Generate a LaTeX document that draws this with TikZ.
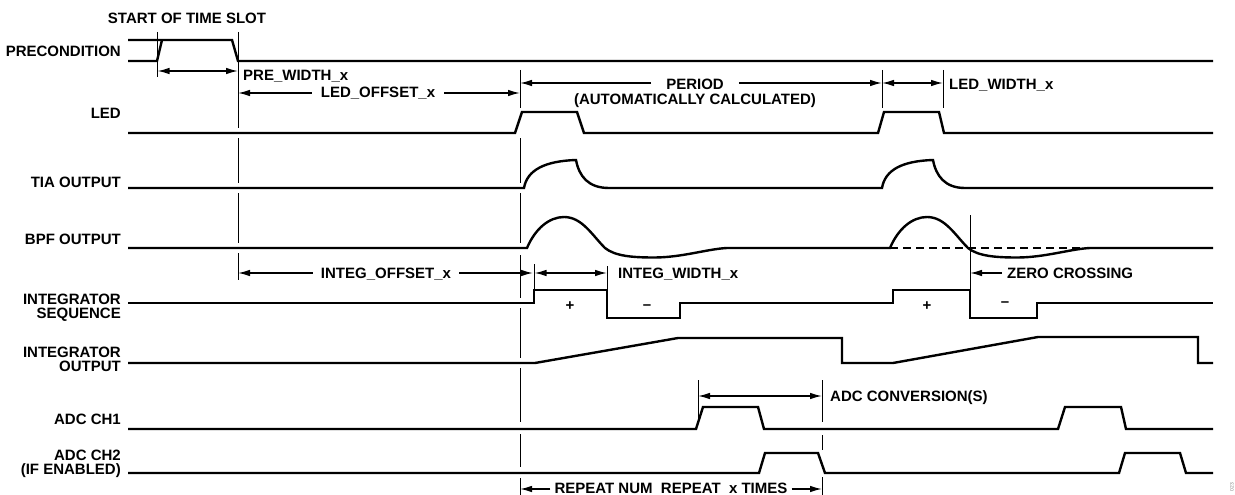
\documentclass[tikz,border=0pt]{standalone}
\usepackage{fontspec}
\setmainfont{Liberation Sans}
\usetikzlibrary{arrows.meta}
\begin{document}
\begin{tikzpicture}[x=1pt,y=-1pt,
  wave/.style={line width=2.4pt, line join=miter},
  tickln/.style={line width=0.9pt},
  dimln/.style={line width=1.3pt},
  dimarr/.style={dimln, -{Latex[length=12pt,width=6.5pt]}},
  dimboth/.style={dimln, {Latex[length=12pt,width=6.5pt]}-{Latex[length=12pt,width=6.5pt]}},
  lbl/.style={font=\fontsize{15}{15}\selectfont\bfseries, inner sep=0pt},
  sig/.style={lbl, anchor=base east},
  sign/.style={font=\fontsize{15}{15}\selectfont\bfseries, inner sep=0pt}
]
\useasboundingbox (0,0) rectangle (1235,495);

% ---------- signal labels ----------
\node[sig] (lPre) at (121,57) {PRECONDITION};
\node[sig] (lLed) at (121,118) {LED};
\node[sig] (lTia) at (121,187) {TIA OUTPUT};
\node[sig] (lBpf) at (121,244.5) {BPF OUTPUT};
\node[sig] (lIs1) at (121,304) {INTEGRATOR};
\node[sig] (lIs2) at (121,318.5) {SEQUENCE};
\node[sig] (lIo1) at (121,357) {INTEGRATOR};
\node[sig] (lIo2) at (121,371.5) {OUTPUT};
\node[sig] (lAdc1) at (121,424) {ADC CH1};
\node[sig] (lAdc2a) at (121,460) {ADC CH2};
\node[sig] (lAdc2b) at (121,474) {(IF ENABLED)};

\node[lbl, anchor=base] (lStart) at (187,24) {START OF TIME SLOT};

% ---------- thin vertical markers ----------
\draw[tickln] (157.5,32) -- (157.5,77);
\foreach \a/\b in {32/128,138/183,193/243,253/280}
  \draw[tickln] (238,\a) -- (238,\b);
\foreach \a/\b in {70/108,138/183,193/243,255/298,308/358,368/422,434/467,478/495}
  \draw[tickln] (520,\a) -- (520,\b);
\draw[tickln] (534,264) -- (534,290);
\draw[tickln] (607,266) -- (607,290);
\draw[tickln] (882,70) -- (882,108);
\draw[tickln] (943,70) -- (943,108);
\draw[tickln] (970,215) -- (970,290);
\draw[tickln] (698,380) -- (698,420);
\foreach \a/\b in {380/422,435/450,477/495}
  \draw[tickln] (822,\a) -- (822,\b);

% ---------- waveforms ----------
% precondition
\draw[wave] (128,40) -- (232,40) -- (238,61) -- (1213,61);
\draw[wave] (128,61) -- (157,61) -- (162,40);
% LED
\draw[wave] (128,133) -- (515,133) -- (522,112) -- (577,112) -- (584,133)
  -- (878,133) -- (884,112) -- (939,112) -- (944,133) -- (1213,133);
% TIA
\draw[wave] (128,188) -- (524,188) .. controls (527,170) and (545,161) .. (576,160)
  .. controls (579,176) and (588,188) .. (609,188) -- (882,188)
  .. controls (885,170) and (902,161) .. (933,160)
  .. controls (936,176) and (945,188) .. (965,188) -- (1213,188);
% BPF
\draw[wave] (128,248) -- (527,248) .. controls (535,229) and (549,217) .. (564,217)
  .. controls (582,217) and (592,235) .. (605,248)
  .. controls (615,256) and (632,257.5) .. (654,257.5)
  .. controls (682,257.5) and (707,249) .. (727,248) -- (890,248)
  .. controls (898,229) and (912,217) .. (927,217)
  .. controls (945,217) and (955,235) .. (968,248)
  .. controls (978,256) and (995,257.5) .. (1017,257.5)
  .. controls (1045,257.5) and (1070,249) .. (1090,248) -- (1213,248);
\draw[line width=1.9pt, dash pattern=on 8pt off 5pt] (890,248) -- (1090,248);
% integrator sequence
\draw[wave] (128,303) -- (534,303) -- (534,290) -- (607,290) -- (607,318) -- (680,318)
  -- (680,303) -- (893,303) -- (893,290) -- (970,290) -- (970,318) -- (1037,318)
  -- (1037,303) -- (1213,303);
\node[sign] (plus1) at (570,306) {+};
\node[sign] (minus1) at (647,307) {\textendash};
\node[sign] (plus2) at (927,306) {+};
\node[sign] (minus2) at (1005,304) {\textendash};
% integrator output
\draw[wave] (128,363) -- (535,363) -- (678,338) -- (842,338) -- (842,363) -- (893,363)
  -- (1038,337) -- (1198,337) -- (1198,363) -- (1213,363);
% ADC CH1
\draw[wave] (128,429) -- (696,429) -- (703,407) -- (758,407) -- (764,429)
  -- (1058,429) -- (1065,407) -- (1121,407) -- (1126,429) -- (1213,429);
% ADC CH2
\draw[wave] (128,473) -- (759,473) -- (765,453) -- (818,453) -- (825,473)
  -- (1119,473) -- (1125,453) -- (1180,453) -- (1186,473) -- (1213,473);

% ---------- dimension arrows ----------
\coordinate (pwA) at (157.5,71);
\coordinate (pwB) at (238,71);
\draw[dimboth] (pwA) -- (pwB);
\node[lbl, anchor=base west] (lPreW) at (243,81) {PRE\_WIDTH\_x};

\coordinate (loA) at (238,93);
\coordinate (loB) at (520,93);
\node[lbl, anchor=base, inner xsep=9pt] (lLedOff) at (378,98) {LED\_OFFSET\_x};
\draw[dimarr] (lLedOff.west |- loA) -- (loA);
\draw[dimarr] (lLedOff.east |- loB) -- (loB);

\coordinate (peA) at (520,83);
\coordinate (peB) at (882,83);
\node[lbl, anchor=base, inner xsep=15pt] (lPeriod) at (695,89) {PERIOD};
\draw[dimarr] (lPeriod.west |- peA) -- (peA);
\draw[dimarr] (lPeriod.east |- peB) -- (peB);
\node[lbl, anchor=base] (lAuto) at (695,104) {(AUTOMATICALLY CALCULATED)};

\coordinate (lwA) at (882,83);
\coordinate (lwB) at (943,83);
\draw[dimboth] (lwA) -- (lwB);
\node[lbl, anchor=base west] (lLedW) at (949,89) {LED\_WIDTH\_x};

\coordinate (ioA) at (238,273);
\coordinate (ioB) at (533,273);
\node[lbl, anchor=base, inner xsep=8pt] (lIntOff) at (386,278) {INTEG\_OFFSET\_x};
\draw[dimarr] (lIntOff.west |- ioA) -- (ioA);
\draw[dimarr] (lIntOff.east |- ioB) -- (ioB);

\coordinate (iwA) at (534.5,273);
\coordinate (iwB) at (607,273);
\draw[dimboth] (iwA) -- (iwB);
\node[lbl, anchor=base west] (lIntW) at (618,278) {INTEG\_WIDTH\_x};

\coordinate (zc) at (970,273);
\node[lbl, anchor=base west, inner xsep=5pt] (lZero) at (1002,278) {ZERO CROSSING};
\draw[dimarr] (lZero.west |- zc) -- (zc);

\coordinate (acA) at (698,396);
\coordinate (acB) at (822,396);
\draw[dimboth] (acA) -- (acB);
\node[lbl, anchor=base west] (lAdcConv) at (830,401) {ADC CONVERSION(S)};

\coordinate (rpA) at (520,489);
\coordinate (rpB) at (822,489);
\node[lbl, anchor=base, inner xsep=4pt] (lRepeat) at (671,493) {REPEAT NUM\ \ REPEAT\ \ x TIMES};
\draw[dimarr] (lRepeat.west |- rpA) -- (rpA);
\draw[dimarr] (lRepeat.east |- rpB) -- (rpB);

% figure id
\node[rotate=90, font=\fontsize{5}{5}\selectfont, text=gray, inner sep=0pt] (fid) at (1232,487) {023};
\end{tikzpicture}
\end{document}
